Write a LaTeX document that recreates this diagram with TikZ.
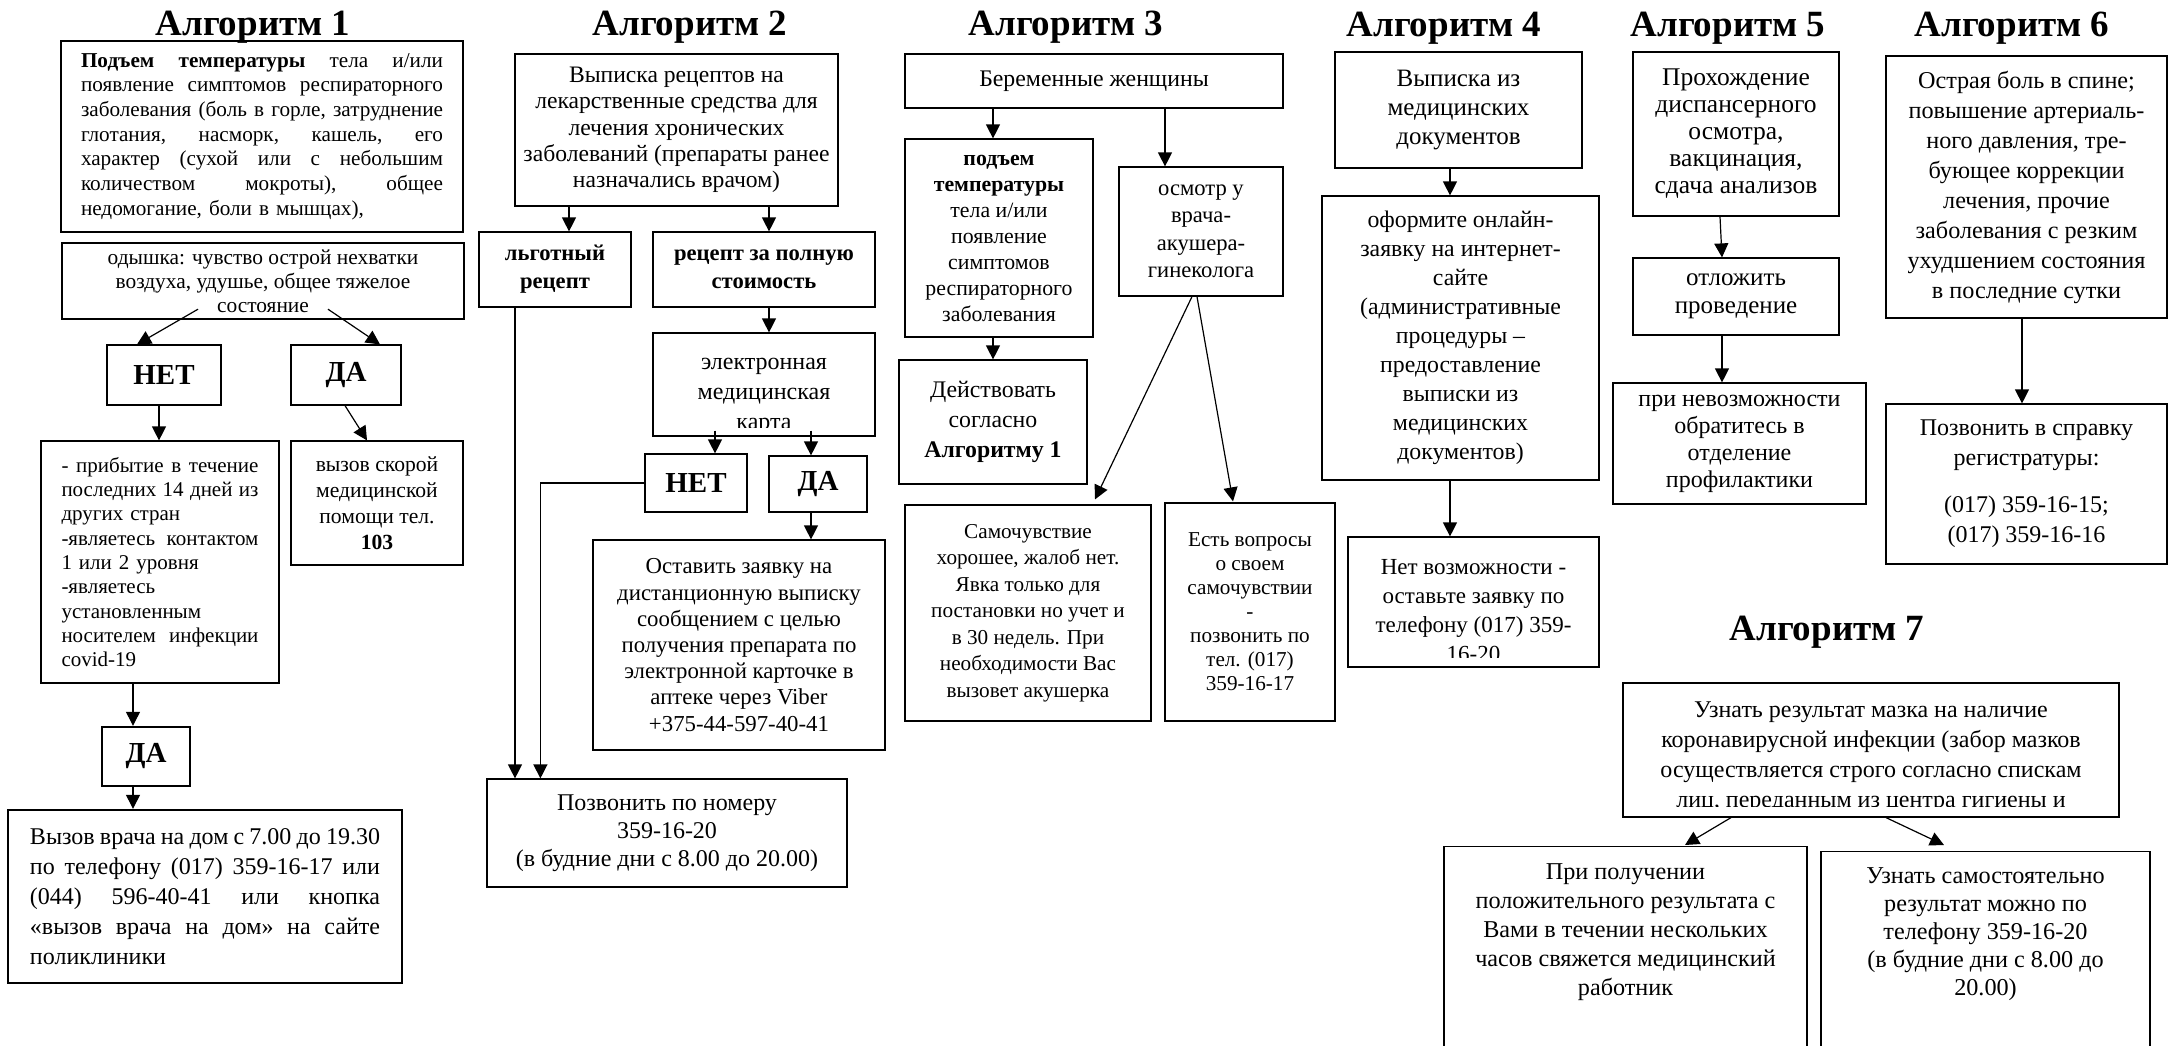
\documentclass[tikz,border=0pt]{standalone}
\usepackage{fontspec}
\setmainfont{Liberation Serif}
\usetikzlibrary{arrows.meta,calc}
% one justified line: the spaces share the free room equally
\newcommand\jline[1]{\leavevmode\hbox to\linewidth{\frenchspacing\spaceskip=.25em plus 1fil minus .1em\relax #1}}

\begin{document}
\begin{tikzpicture}[x=0.5pt, y=-0.5pt,
    box/.style={draw, line width=0.6pt, inner sep=0pt, align=center},
    thickbox/.style={box, line width=1.2pt},
    yesno/.style={font=\fontsize{14.5}{16}\selectfont\bfseries},
    title/.style={anchor=base, font=\fontsize{18.5}{22}\selectfont\bfseries},
    arr/.style={line width=0.6pt, -{Triangle[length=7pt, width=7pt]}}]
    \path[use as bounding box] (0,0) rectangle (2170,1045);

    % Titles
    \node[title] (t1) at (253,35) {Алгоритм 1};
    \node[title] (t2) at (690,35) {Алгоритм 2};
    \node[title] (t3) at (1066,35) {Алгоритм 3};
    \node[title] (t4) at (1444,36) {Алгоритм 4};
    \node[title] (t5) at (1728,36) {Алгоритм 5};
    \node[title] (t6) at (2012,36) {Алгоритм 6};
    \node[title] (t7) at (1827,640) {Алгоритм 7};

    % Algorithm 1
    \node[box, align=left, minimum width=201pt, minimum height=95.5pt, text width=181pt,
          font=\fontsize{10.6}{12.35}\selectfont] (a1top) at (262,136.5)
        {\jline{\textbf{Подъем температуры} тела и/или}\\
         \jline{появление симптомов респираторного}\\
         \jline{заболевания (боль в горле, затруднение}\\
         \jline{глотания, насморк, кашель, его}\\
         \jline{характер (сухой или с небольшим}\\
         \jline{количеством мокроты), общее}\\
         недомогание, боли в мышцах),};
    \node[thickbox, minimum width=201pt, minimum height=38pt,
          font=\fontsize{10.7}{12}\selectfont] (ody) at (263,281)
        {одышка: чувство острой нехватки\\воздуха, удушье, общее тяжелое\\состояние};
    \node[box, yesno, minimum width=57pt, minimum height=30pt] (net1) at (164,375) {НЕТ};
    \node[box, yesno, minimum width=55pt, minimum height=30pt] (da1) at (346,375) {ДА};
    \node[box, align=left, minimum width=119pt, minimum height=121pt, text width=98.5pt,
          font=\fontsize{10.5}{12.15}\selectfont] (list1) at (160,562)
        {\jline{- прибытие в течение}\\
         \jline{последних 14 дней из}\\
         других стран\\
         \jline{-являетесь контактом}\\
         1 или 2 уровня\\
         -являетесь\\
         установленным\\
         \jline{носителем инфекции}\\
         covid-19};
    \node[box, minimum width=86pt, minimum height=62pt,
          font=\fontsize{10.8}{13}\selectfont] (amb) at (377,503)
        {вызов скорой\\медицинской\\помощи тел.\\\textbf{103}};
    \node[thickbox, yesno, minimum width=44pt, minimum height=29.5pt] (da1b) at (146,756.5) {ДА};
    \node[thickbox, align=left, minimum width=197pt, minimum height=86.5pt, text width=175pt,
          font=\fontsize{12}{15}\selectfont] (home) at (205,896.5)
        {\jline{Вызов врача на дом с 7.00 до 19.30}\\
         \jline{по телефону (017) 359-16-17 или}\\
         \jline{(044) 596-40-41 или кнопка}\\
         \jline{«вызов врача на дом» на сайте}\\
         поликлиники};

    \draw[arr] ($(ody.south)+(-65,-11)$) -- ($(net1.north)+(-27,0)$);
    \draw[arr] ($(ody.south)+(65,-11)$) -- ($(da1.north)+(34,0)$);
    \draw[arr] ($(net1.south)+(-5,0)$) -- ($(net1.south |- list1.north)+(-5,0)$);
    \draw[arr] ($(da1.south)+(-1,0)$) -- ($(amb.north)+(-10,0)$);
    \draw[arr] ($(da1b.north |- list1.south)+(-13,0)$) -- ($(da1b.north)+(-13,0)$);
    \draw[arr] ($(da1b.south)+(-13,0)$) -- ($(da1b.south |- home.north)+(-13,0)$);

    % Algorithm 2
    \node[box, minimum width=161.5pt, minimum height=76pt,
          font=\fontsize{11.8}{13.15}\selectfont] (a2top) at (676.5,130)
        {Выписка рецептов на\\лекарственные средства для\\лечения хронических\\заболеваний (препараты ранее\\назначались врачом)};
    \node[box, minimum width=76pt, minimum height=37.5pt,
          font=\fontsize{11.3}{14}\selectfont\bfseries] (lgot) at (555,269.5) {льготный\\рецепт};
    \node[box, minimum width=111pt, minimum height=37.5pt,
          font=\fontsize{11.3}{14}\selectfont\bfseries] (full) at (764,269.5) {рецепт за полную\\стоимость};
    \node[box, minimum width=111pt, minimum height=51.5pt] (card) at (764,384.5) {};
    \begin{scope}
        \clip ($(card.south west)+(0,-9)$) rectangle (card.north east);
        \node[anchor=base, align=center, inner sep=0pt, font=\fontsize{12}{15}\selectfont] (cardT)
            at ($(card.north)+(0,97)$) {электронная\\медицинская\\карта};
    \end{scope}
    \node[box, yesno, minimum width=51pt, minimum height=29pt] (net2) at (696,483) {НЕТ};
    \node[box, yesno, minimum width=49pt, minimum height=28pt] (da2) at (818,484) {ДА};
    \node[box, minimum width=146pt, minimum height=105pt,
          font=\fontsize{11.4}{13.1}\selectfont] (viber) at (739,645)
        {Оставить заявку на\\дистанционную выписку\\сообщением с целью\\получения препарата по\\электронной карточке в\\аптеке через Viber\\+375-44-597-40-41};
    \node[box, minimum width=180pt, minimum height=54pt,
          font=\fontsize{12}{14}\selectfont] (phone2) at (667,833)
        {Позвонить по номеру\\359-16-20\\(в будние дни с 8.00 до 20.00)};

    \draw[arr] ($(lgot.north |- a2top.south)+(14,0)$) -- ($(lgot.north)+(14,0)$);
    \draw[arr] ($(full.north |- a2top.south)+(5,0)$) -- ($(full.north)+(5,0)$);
    \draw[arr] ($(full.south)+(5,0)$) -- ($(full.south |- card.north)+(5,0)$);
    \draw[arr] ($(net2.north |- card.south)+(19,-6)$) -- ($(net2.north)+(19,0)$);
    \draw[arr] ($(da2.north |- card.south)+(-7,-6)$) -- ($(da2.north)+(-7,0)$);
    \draw[arr] ($(da2.south)+(-7,0)$) -- ($(da2.south |- viber.north)+(-7,0)$);
    \draw[arr] ($(lgot.south)+(-40,0)$) -- ($(lgot.south |- phone2.north)+(-40,0)$);
    \draw[arr] (net2.west) -| ($(phone2.north west)+(54,0)$);

    % Algorithm 3
    \node[box, minimum width=189pt, minimum height=27pt,
          font=\fontsize{11.9}{14}\selectfont] (preg) at (1094,81) {Беременные женщины};
    \node[box, minimum width=94pt, minimum height=99pt,
          font=\fontsize{10.9}{13}\selectfont] (fever) at (999,238)
        {\textbf{подъем}\\\textbf{температуры}\\тела и/или\\появление\\симптомов\\респираторного\\заболевания};
    \node[box, minimum width=82pt, minimum height=64.5pt,
          font=\fontsize{11.3}{13.75}\selectfont] (gyn) at (1201,231.5)
        {осмотр у\\врача-\\акушера-\\гинеколога};
    \node[box, minimum width=94pt, minimum height=62pt,
          font=\fontsize{11.9}{15}\selectfont] (alg1) at (993,422)
        {Действовать\\согласно\\\textbf{Алгоритму 1}};
    \node[box, minimum width=123pt, minimum height=108pt,
          font=\fontsize{10.6}{13.25}\selectfont] (well) at (1028,613)
        {Самочувствие\\хорошее, жалоб нет.\\Явка только для\\постановки но учет и\\в 30 недель. При\\необходимости Вас\\вызовет акушерка};
    \node[box, minimum width=85pt, minimum height=109pt,
          font=\fontsize{10.6}{12}\selectfont] (quest) at (1250,612)
        {Есть вопросы\\о своем\\самочувствии\\-\\позвонить по\\тел. (017)\\359-16-17};

    \draw[arr] ($(fever.north |- preg.south)+(-6,0)$) -- ($(fever.north)+(-6,0)$);
    \draw[arr] ($(gyn.north |- preg.south)+(-36,0)$) -- ($(gyn.north)+(-36,0)$);
    \draw[arr] (fever.south -| alg1.north) -- (alg1.north);
    \draw[arr] ($(gyn.south)+(-9,0)$) -- ($(well.north)+(67,-5)$);
    \draw[arr] ($(gyn.south)+(-4,0)$) -- ($(quest.north)+(-17,-1)$);

    % Algorithm 4
    \node[box, minimum width=123.5pt, minimum height=58pt,
          font=\fontsize{12.5}{14.5}\selectfont] (extract) at (1458.5,110)
        {Выписка из\\медицинских\\документов};
    \node[box, minimum width=138.5pt, minimum height=142pt,
          font=\fontsize{11.9}{14.5}\selectfont] (online) at (1460.5,338)
        {оформите онлайн-\\заявку на интернет-\\сайте\\(административные\\процедуры –\\предоставление\\выписки из\\медицинских\\документов)};
    \node[box, minimum width=125.5pt, minimum height=65pt] (nophone) at (1473.5,602) {};
    \begin{scope}
        \clip ($(nophone.south west)+(0,-10)$) rectangle (nophone.north east);
        \node[anchor=base, align=center, inner sep=0pt, font=\fontsize{11.5}{14.5}\selectfont] (nophoneT)
            at ($(nophone.north)+(0,125)$) {Нет возможности -\\оставьте заявку по\\телефону (017) 359-\\16-20};
    \end{scope}

    \draw[arr] ($(extract.south)+(-8.5,0)$) -- ($(extract.south |- online.north)+(-8.5,0)$);
    \draw[arr] ($(online.south)+(-10.5,0)$) -- ($(online.south |- nophone.north)+(-10.5,0)$);

    % Algorithm 5
    \node[box, minimum width=103pt, minimum height=82pt,
          font=\fontsize{12.75}{13.5}\selectfont] (disp) at (1736,134)
        {Прохождение\\диспансерного\\осмотра,\\вакцинация,\\сдача анализов};
    \node[box, minimum width=103pt, minimum height=38.5pt,
          font=\fontsize{12.5}{14}\selectfont] (delay) at (1736,296.5)
        {отложить\\проведение};
    \node[box, minimum width=126.5pt, minimum height=60.5pt,
          font=\fontsize{12}{13.5}\selectfont] (prof) at (1739.5,443.5)
        {при невозможности\\обратитесь в\\отделение\\профилактики};

    \draw[arr] ($(disp.south)+(-16,0)$) -- ($(delay.north)+(-14,0)$);
    \draw[arr] ($(delay.south)+(-14,0)$) -- ($(delay.south |- prof.north)+(-14,0)$);

    % Algorithm 6
    \node[box, minimum width=140.5pt, minimum height=131pt,
          font=\fontsize{12.1}{15}\selectfont] (acute) at (2026.5,187)
        {Острая боль в спине;\\повышение артериаль-\\ного давления, тре-\\бующее коррекции\\лечения, прочие\\заболевания с резким\\ухудшением состояния\\в последние сутки};
    \node[box, minimum width=140.5pt, minimum height=80pt,
          font=\fontsize{12}{15}\selectfont] (reg) at (2026.5,484)
        {Позвонить в справку\\регистратуры:\\[8.5pt](017) 359-16-15;\\(017) 359-16-16};

    \draw[arr] ($(acute.south)+(-4.5,0)$) -- ($(acute.south |- reg.north)+(-4.5,0)$);

    % Algorithm 7
    \node[box, minimum width=248pt, minimum height=67pt] (swab) at (1871,750) {};
    \begin{scope}
        \clip ($(swab.south west)+(0,-11)$) rectangle (swab.north east);
        \node[anchor=base, align=center, inner sep=0pt, font=\fontsize{12}{15}\selectfont] (swabT)
            at ($(swab.north)+(0,125)$)
            {Узнать результат мазка на наличие\\коронавирусной инфекции (забор мазков\\осуществляется строго согласно спискам\\лиц, переданным из центра гигиены и};
    \end{scope}
    \node[box, anchor=north, minimum width=181.5pt, minimum height=110pt] (pos) at (1625.5,846) {};
    \node[anchor=base, align=center, inner sep=0pt, font=\fontsize{12.1}{14.5}\selectfont] (posT)
        at ($(pos.north)+(0,149)$)
        {При получении\\положительного результата с\\Вами в течении нескольких\\часов свяжется медицинский\\работник};
    \node[box, anchor=north, minimum width=164.5pt, minimum height=110pt] (self) at (1985.5,851) {};
    \node[anchor=base, align=center, inner sep=0pt, font=\fontsize{12.1}{14}\selectfont] (selfT)
        at ($(self.north)+(0,144)$)
        {Узнать самостоятельно\\результат можно по\\телефону 359-16-20\\(в будние дни с 8.00 до\\20.00)};

    \draw[arr] ($(swab.south)+(-140,0)$) -- ($(pos.north)+(59.5,-1)$);
    \draw[arr] ($(swab.south)+(15,0)$) -- ($(self.north)+(-41.5,-6)$);
\end{tikzpicture}
\end{document}
